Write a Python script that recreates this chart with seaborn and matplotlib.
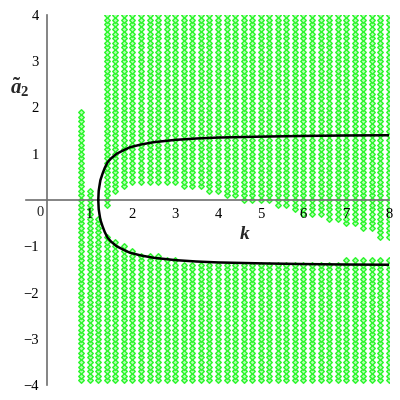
import numpy as np
import pandas as pd
import matplotlib
matplotlib.use("Agg")
import matplotlib.pyplot as plt
import seaborn as sns

# ---- data ----
col_k = [0.8, 1.0, 1.2, 1.4, 1.6, 1.8, 2.0, 2.2, 2.4, 2.6, 2.8, 3.0, 3.2, 3.4,
         3.6, 3.8, 4.0, 4.2, 4.4, 4.6, 4.8, 5.0, 5.2, 5.4, 5.6, 5.8, 6.0, 6.2,
         6.4, 6.6, 6.8, 7.0, 7.2, 7.4, 7.6, 7.8, 8.0]
nan = float("nan")
upper_lo = [nan, nan, nan, -0.1, 0.2, 0.3, 0.4, 0.4, 0.4, 0.4, 0.4, 0.4, 0.3, 0.3,
            0.3, 0.2, 0.2, 0.1, 0.1, 0.0, 0.0, 0.0, 0.0, -0.1, -0.1, -0.2, -0.3, -0.3,
            -0.3, -0.4, -0.4, -0.5, -0.5, -0.6, -0.6, -0.8, -0.8]
lower_hi = [1.9, 0.2, -0.4, -0.8, -0.9, -1.0, -1.1, -1.2, -1.2, -1.2, -1.3, -1.3, -1.4, -1.4,
            -1.4, -1.4, -1.4, -1.4, -1.4, -1.4, -1.4, -1.4, -1.4, -1.4, -1.4, -1.4, -1.4, -1.4,
            -1.4, -1.4, -1.4, -1.3, -1.3, -1.3, -1.3, -1.3, -1.3]
y_grid = [round(v / 10, 1) for v in range(-39, 41)]

curve_k = [1.20, 1.21, 1.23, 1.25, 1.30, 1.35, 1.42, 1.50, 1.63, 1.80, 1.94, 2.2,
           2.5, 3.0, 3.5, 4.0, 5.0, 6.0, 7.0, 8.0]
curve_y = [0.0, 0.20, 0.32, 0.43, 0.57, 0.69, 0.82, 0.90, 1.00, 1.08, 1.14, 1.20,
           1.25, 1.30, 1.33, 1.35, 1.37, 1.385, 1.395, 1.40]

x_ticks = [1, 2, 3, 4, 5, 6, 7, 8]
y_ticks = [-4, -3, -2, -1, 1, 2, 3, 4]

# ---- build point table ----
rows = []
for k, lo, hi in zip(col_k, upper_lo, lower_hi):
    for y in y_grid:
        if (not np.isnan(lo) and y >= lo - 1e-9) or y <= hi + 1e-9:
            rows.append((k, y))
pts = pd.DataFrame(rows, columns=["k", "a2"])

sns.set_style("white")
plt.rcParams["font.family"] = ["Liberation Serif", "DejaVu Serif"]
plt.rcParams["mathtext.fontset"] = "custom"
plt.rcParams["mathtext.it"] = "Liberation Serif:italic:bold"
plt.rcParams["mathtext.rm"] = "Liberation Serif:bold"

fig = plt.figure(figsize=(4, 4), dpi=100)
ax = fig.add_axes([0.064, 0.0375, 0.9085, 0.925])

sns.scatterplot(data=pts, x="k", y="a2", ax=ax, marker="D", s=8,
                facecolor="#b0ffb0", edgecolor="#2af52a", linewidth=1.0,
                legend=False, zorder=1)

sns.lineplot(x=curve_k, y=curve_y, ax=ax, color="black", lw=1.8,
             estimator=None, sort=False, zorder=3)
sns.lineplot(x=curve_k, y=[-v for v in curve_y], ax=ax, color="black", lw=1.8,
             estimator=None, sort=False, zorder=3)

ax.set_xlim(-0.5, 8.0)
ax.set_ylim(-4.0, 4.0)
ax.set_axisbelow(False)

for s in ["top", "right"]:
    ax.spines[s].set_visible(False)
ax.spines["left"].set_position(("data", 0))
ax.spines["bottom"].set_position(("data", 0))
for s in ["left", "bottom"]:
    ax.spines[s].set_color("#707070")
    ax.spines[s].set_linewidth(1.2)
    ax.spines[s].set_zorder(2.5)

ax.set_xticks(x_ticks)
ax.set_xticklabels([str(t) for t in x_ticks])
ax.set_yticks(y_ticks)
ax.set_yticklabels([("\u2212" + str(-t)) if t < 0 else str(t) for t in y_ticks])
ax.set_xticks([-0.5, 0.5, 1.5, 2.5, 3.5, 4.5, 5.5, 6.5, 7.5], minor=True)
ax.set_yticks([-3.5, -2.5, -1.5, -0.5, 0.5, 1.5, 2.5, 3.5], minor=True)
ax.tick_params(axis="both", which="major", direction="out", length=4,
               width=1, color="#707070", labelsize=10.5, labelcolor="black", pad=2)
ax.tick_params(axis="both", which="minor", direction="out", length=2.5,
               width=1, color="#707070")

ax.set_xlabel("")
ax.set_ylabel("")
ax.text(-0.16, -0.28, "0", ha="center", va="center", fontsize=10.5)
ax.text(4.63, -0.75, r"$k$", ha="center", va="center", fontsize=14)
ax.text(-0.42, 2.42, r"$\tilde{a}_{\mathrm{2}}$", ha="right", va="center", fontsize=15)

fig.savefig("out.png", dpi=100)
